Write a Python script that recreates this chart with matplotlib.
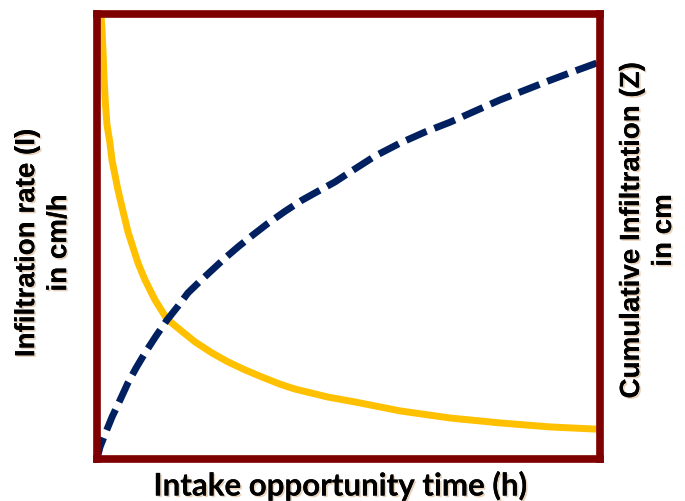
import matplotlib
matplotlib.use("Agg")
import matplotlib.pyplot as plt
import matplotlib.patheffects as pe

# intake opportunity time (h)
t_rate = [0.080, 0.099, 0.119, 0.139, 0.169, 0.199, 0.258, 0.298, 0.358, 0.417, 0.477,
          0.616, 0.815, 0.954, 1.153, 1.392, 1.750, 1.948, 2.286, 2.604, 2.942, 3.280,
          3.638, 3.936, 4.592, 5.129, 6.024, 7.018, 8.012, 9.006, 9.940]
# infiltration rate (relative units)
rate = [99.9, 96.3, 91.8, 85.7, 79.5, 75.0, 70.9, 67.1, 63.7, 60.4, 57.5,
        51.0, 44.0, 40.2, 35.7, 31.4, 28.1, 26.3, 23.8, 21.8, 20.0, 18.4,
        16.8, 15.7, 13.9, 12.8, 10.8, 9.2, 8.1, 7.2, 6.7]

t_cum = [0.0, 0.060, 0.179, 0.298, 0.457, 0.616, 0.775, 0.954, 1.173, 1.392, 1.610,
         1.809, 2.048, 2.286, 2.545, 2.803, 3.101, 3.399, 3.738, 4.076, 4.394, 4.732,
         5.030, 5.527, 6.024, 6.521, 7.018, 7.515, 8.012, 8.509, 9.006, 9.503, 9.940]
# cumulative infiltration (relative units)
cum = [0.0, 2.7, 6.1, 9.4, 13.2, 17.1, 20.4, 23.8, 27.6, 31.2, 34.3,
       37.3, 39.9, 42.4, 45.1, 47.6, 50.3, 52.9, 55.6, 58.1, 60.1, 62.2,
       64.4, 68.0, 70.9, 73.4, 75.6, 78.1, 80.6, 82.8, 85.0, 87.1, 88.9]

frame_col = '#7f0000'
shadow = [pe.withSimplePatchShadow(offset=(1.2, -1.2), shadow_rgbFace='#c08040', alpha=0.35), pe.Normal()]

fig = plt.figure(figsize=(6.85, 5.01), dpi=100)
ax = fig.add_axes([97/685, 42/501, 503/685, 445.5/501])
ax2 = ax.twinx()

ax.plot(t_rate, rate, color='#ffc000', lw=5, solid_capstyle='butt', solid_joinstyle='round')
ax2.plot(t_cum, cum, color='#002060', lw=5, linestyle=(0, (3.2, 1.2)), dash_capstyle='butt')

for a in (ax, ax2):
    a.set_xlim(0, 10)
    a.set_ylim(0, 100)
    a.set_xticks([])
    a.set_yticks([])
for s in ax.spines.values():
    s.set_visible(False)
for s in ax2.spines.values():
    s.set_color(frame_col)
    s.set_linewidth(5.5)

fig.text(0.497, 0.03, 'Intake opportunity time (h)', ha='center', va='center',
         fontsize=22.5, fontweight='bold', family='Lato', path_effects=shadow)
fig.text(0.063, 0.515, 'Infiltration rate (I)\nin cm/h', ha='center', va='center',
         rotation=90, fontsize=20, fontweight='bold', family='Liberation Sans',
         linespacing=1.3, path_effects=shadow)
fig.text(0.946, 0.54, 'Cumulative Infiltration (Z)\nin cm', ha='center', va='center',
         rotation=90, fontsize=20, fontweight='bold', family='Liberation Sans',
         linespacing=1.3, path_effects=shadow)

fig.savefig('out.png', dpi=100)
